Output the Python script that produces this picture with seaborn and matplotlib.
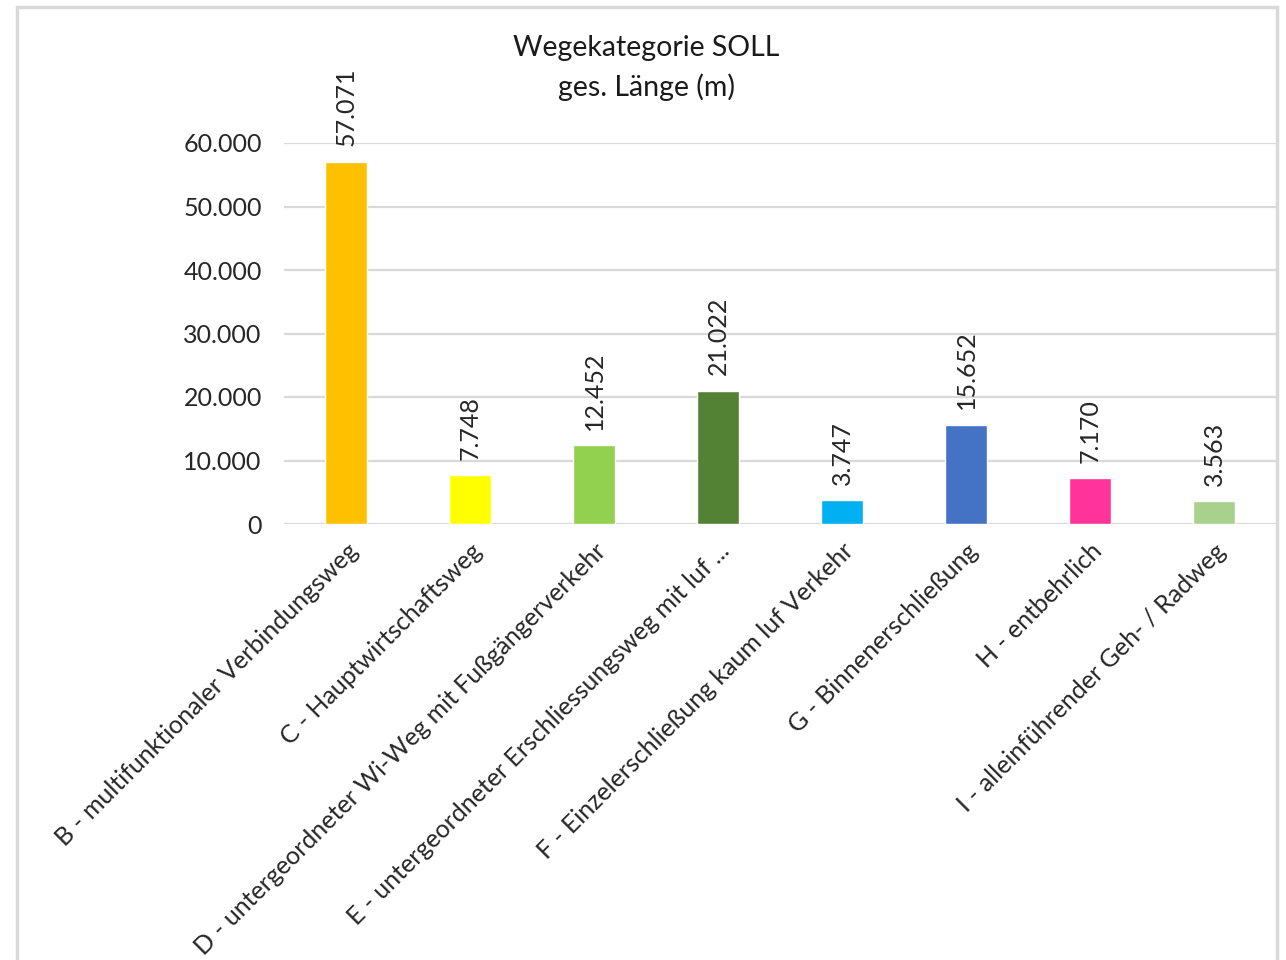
import matplotlib
matplotlib.use("Agg")
import matplotlib.pyplot as plt
from matplotlib.patches import Rectangle
from matplotlib.ticker import FuncFormatter
import seaborn as sns
import pandas as pd

categories = [
    "B - multifunktionaler Verbindungsweg",
    "C - Hauptwirtschaftsweg",
    "D - untergeordneter Wi-Weg mit Fußgängerverkehr",
    "E - untergeordneter Erschliessungsweg mit luf ...",
    "F - Einzelerschließung kaum luf Verkehr",
    "G - Binnenerschließung",
    "H - entbehrlich",
    "I - alleinführender Geh- / Radweg",
]
values = [57071, 7748, 12452, 21022, 3747, 15652, 7170, 3563]
colors = ["#FFC000", "#FFFF00", "#92D050", "#548235", "#00B0F0", "#4472C4", "#FF3399", "#A9D18E"]
yticks = [0, 10000, 20000, 30000, 40000, 50000, 60000]
title_lines = ["Wegekategorie SOLL", "ges. Länge (m)"]

def de(v):
    return f"{int(v):,}".replace(",", ".")

sns.set_theme(style="white")
plt.rcParams["font.family"] = ["Lato", "DejaVu Sans"]

df = pd.DataFrame({"cat": categories, "val": values})

fig = plt.figure(figsize=(12.86, 9.6), dpi=100)
ax = fig.add_axes([284 / 1286, 1 - 524 / 960, (1276 - 284) / 1286, (524 - 143) / 960])

sns.barplot(data=df, x="cat", y="val", hue="cat", palette=colors, order=categories,
            hue_order=categories, width=0.34, legend=False, ax=ax, saturation=1)

ax.set_ylim(0, 60000)
ax.set_yticks(yticks)
ax.yaxis.set_major_formatter(FuncFormatter(lambda v, p: de(v)))
ax.grid(axis="y", color="#d9d9d9", linewidth=1.6)
ax.set_axisbelow(True)
for s in ax.spines.values():
    s.set_visible(False)
ax.tick_params(axis="y", length=0, pad=16, labelsize=18, colors="#262626")
ax.tick_params(axis="x", length=0, pad=11, labelsize=18, colors="#262626")
ax.set_xlabel("")
ax.set_ylabel("")
plt.setp(ax.get_xticklabels(), rotation=45, ha="right", va="top", rotation_mode="anchor")

for i, v in enumerate(values):
    ax.annotate(de(v), (i, v), xytext=(0, 11), textcoords="offset points",
                rotation=90, ha="center", va="bottom", fontsize=18, color="#262626")

fig.text(646 / 1286, 1 - 48 / 960, title_lines[0], ha="center", va="center",
         fontsize=20.5, color="#1a1a1a")
fig.text(646 / 1286, 1 - 87 / 960, title_lines[1], ha="center", va="center",
         fontsize=20.5, color="#1a1a1a")

fig.patches.append(Rectangle((17 / 1286, -0.05), (1277 - 17) / 1286, 1.05 - 7 / 960,
                             transform=fig.transFigure, fill=False,
                             edgecolor="#d9d9d9", linewidth=2.5, zorder=0))

fig.savefig("out.png", dpi=100)
